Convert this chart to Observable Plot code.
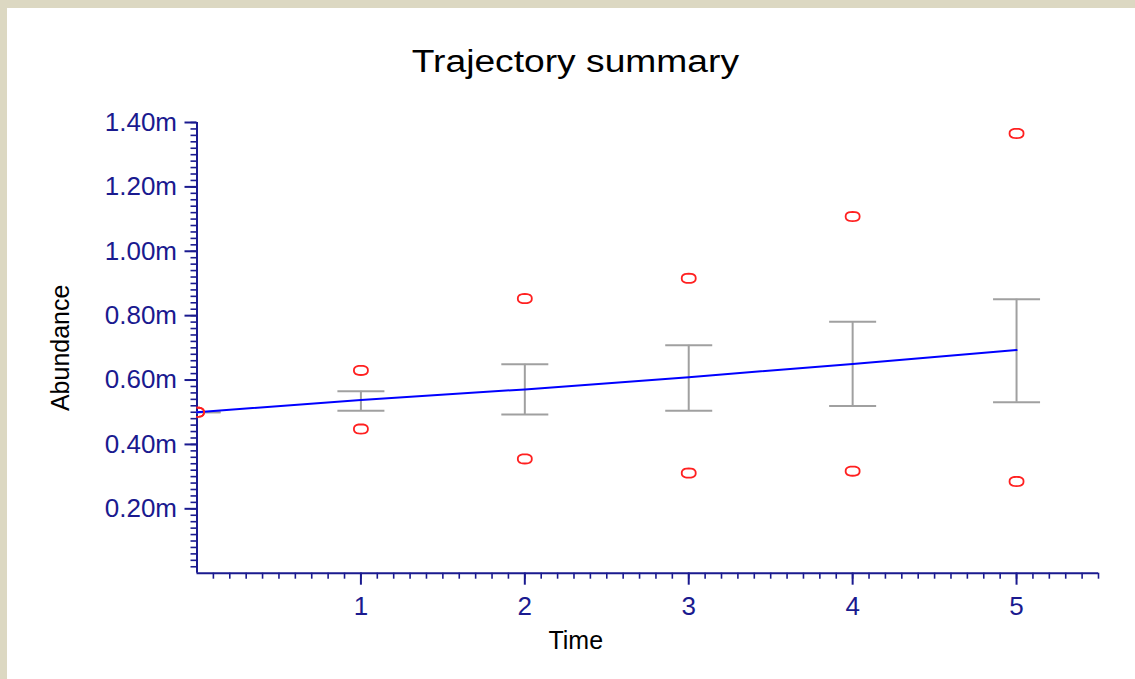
<!DOCTYPE html>
<html><head><meta charset="utf-8">
<script src="https://cdn.jsdelivr.net/npm/d3@7"></script>
<script src="https://cdn.jsdelivr.net/npm/@observablehq/plot@0.6"></script>
<style>
html,body{margin:0;padding:0;background:#dcd8c2;}
body{width:1135px;height:679px;overflow:hidden;position:relative;}
#panel{position:absolute;left:7px;top:8px;width:1128px;height:671px;background:#fff;}
#title{position:absolute;left:4px;top:38px;width:1128px;text-align:center;font-family:"Liberation Sans",Arial,sans-serif;font-size:31px;line-height:31px;color:#000;}
#title span{display:inline-block;transform:scaleX(1.2);}
#chart{position:absolute;left:0;top:85px;}
</style>
</head><body>
<div id="panel">
  <div id="title"><span>Trajectory summary</span></div>
  <div id="chart"></div>
</div>
<script>
// ---- data ----
const times   = [0, 1, 2, 3, 4, 5];
const trend   = [0.500, 0.538, 0.571, 0.609, 0.650, 0.693];
const errLow  = [0.500, 0.505, 0.493, 0.505, 0.519, 0.531];
const errHigh = [0.500, 0.565, 0.649, 0.708, 0.781, 0.851];
const upper   = [0.500, 0.630, 0.853, 0.916, 1.108, 1.366];
const lower   = [0.500, 0.448, 0.355, 0.311, 0.317, 0.285];
const xTicks  = [1, 2, 3, 4, 5];
const yTicks  = [0.2, 0.4, 0.6, 0.8, 1.0, 1.2, 1.4];
const xMinor  = d3.range(1, 56).map(i => i / 10);
const yMinor  = d3.range(1, 71).map(i => i / 50);
const xLabel = "Time";
const yLabel = "Abundance";

const rows = times.map((t, i) => ({t, trend: trend[i], lo: errLow[i], hi: errHigh[i]}));
const pts = times.flatMap((t, i) => [{t, v: upper[i]}, {t, v: lower[i]}]);

const navy = "#1a1a8f";
const capSymbol = {draw(ctx, size) { const r = Math.sqrt(size / Math.PI); ctx.moveTo(-r, 0); ctx.lineTo(r, 0); }};
const ringSymbol = {draw(ctx) {
  // rounded diamond, wider than tall
  const n = 24;
  for (let k = 0; k <= n; k++) {
    const a = 2 * Math.PI * k / n;
    const c = Math.cos(a), s = Math.sin(a);
    const px = 7 * Math.sign(c) * Math.pow(Math.abs(c), 0.8);
    const py = 4.6 * Math.sign(s) * Math.pow(Math.abs(s), 0.8);
    if (k) ctx.lineTo(px, py); else ctx.moveTo(px, py);
  }
  ctx.closePath();
}};

const chart = Plot.plot({
  width: 1128,
  height: 586,
  marginLeft: 189.5,
  marginRight: 37,
  marginTop: 29,
  marginBottom: 106.3,
  style: {fontFamily: '"Liberation Sans", Arial, sans-serif', fontSize: "26px", background: "transparent", overflow: "visible"},
  x: {domain: [0, 5.5], axis: null},
  y: {domain: [0, 1.4], axis: null},
  marks: [
    Plot.axisX({ticks: xMinor, tickSize: 6, tickFormat: () => "", label: null, stroke: navy, strokeWidth: 1.6}),
    Plot.axisX({ticks: xTicks, tickSize: 12, tickPadding: 11, tickFormat: d => String(d), label: null, color: navy, strokeWidth: 2}),
    Plot.axisY({ticks: yMinor, tickSize: 6, tickFormat: () => "", label: null, stroke: navy, strokeWidth: 1.6}),
    Plot.axisY({ticks: yTicks, tickSize: 12, tickPadding: 8, tickFormat: d => d.toFixed(2) + "m", label: null, color: navy, strokeWidth: 2}),
    Plot.ruleX([0], {stroke: navy, strokeWidth: 2}),
    Plot.ruleY([0], {stroke: navy, strokeWidth: 2}),
    Plot.ruleX(rows, {x: "t", y1: "lo", y2: "hi", stroke: "#a0a0a0", strokeWidth: 2, clip: true}),
    Plot.dot(rows, {x: "t", y: "lo", symbol: capSymbol, r: 23.5, stroke: "#a0a0a0", strokeWidth: 2, fill: "none", clip: true}),
    Plot.dot(rows, {x: "t", y: "hi", symbol: capSymbol, r: 23.5, stroke: "#a0a0a0", strokeWidth: 2, fill: "none", clip: true}),
    Plot.line(rows, {x: "t", y: "trend", stroke: "#0000ff", strokeWidth: 2}),
    Plot.dot(pts, {x: "t", y: "v", symbol: ringSymbol, r: 5, stroke: "#ff2020", strokeWidth: 1.8, fill: "none", clip: true}),
    Plot.text([xLabel], {frameAnchor: "bottom", dx: -72, dy: 76, fill: "#000", fontSize: 25, textAnchor: "middle"}),
    Plot.text([yLabel], {frameAnchor: "left", dx: -136.5, rotate: -90, fill: "#000", fontSize: 25, textAnchor: "middle"})
  ]
});
document.getElementById("chart").appendChild(chart);
</script>
</body></html>
